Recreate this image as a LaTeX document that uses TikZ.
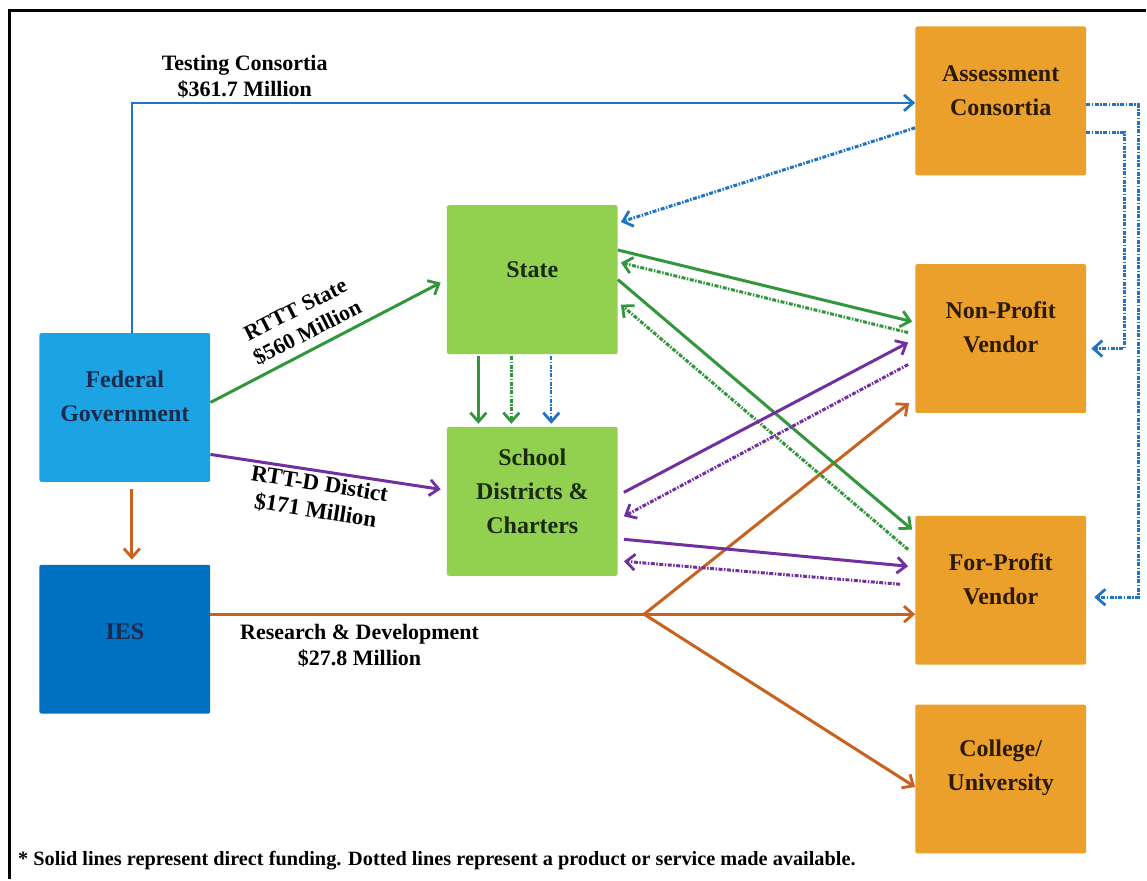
\documentclass[tikz,border=0pt]{standalone}
\usepackage{fontspec}
\setmainfont{Liberation Serif}
\usetikzlibrary{arrows.meta,calc}
\definecolor{fedblue}{HTML}{1CA3E3}
\definecolor{iesblue}{HTML}{0070C0}
\definecolor{boxgreen}{HTML}{92D050}
\definecolor{boxorange}{HTML}{EBA02C}
\definecolor{navytxt}{HTML}{1B2A4E}
\definecolor{greentxt}{HTML}{1A2A10}
\definecolor{browntxt}{HTML}{2A1A06}
\definecolor{lblue}{HTML}{1F74C4}
\definecolor{lgreen}{HTML}{32963C}
\definecolor{lpurple}{HTML}{7030A0}
\definecolor{lorange}{HTML}{C8621E}
\begin{document}
\begin{tikzpicture}[x=1pt,y=-1pt,
  box/.style={draw=none, rounded corners=2pt, minimum width=171pt, minimum height=149pt, inner sep=0pt},
  boxtxt/.style={font=\fontsize{24}{34}\selectfont\bfseries, align=center, inner sep=0pt},
  lbl/.style={font=\fontsize{22}{26}\selectfont\bfseries, align=center, text=black, inner sep=0pt},
  fund/.style={line width=3pt, -{Straight Barb[length=9pt,width=16pt,line width=2.8pt]}},
  prod/.style={fund, dash pattern=on 4pt off 1.5pt on 1.5pt off 1.5pt},
  plain/.style={line width=3pt}
]
\fill[white] (0,0) rectangle (1147,880);
\draw[line width=3pt] (10,880) -- (10,11) -- (1147,11);

% boxes
\node[box, fill=fedblue] (fed) at (125,408) {};
\node[boxtxt, text=navytxt] (fedT) at ([yshift=11pt]fed.center) {Federal\\Government};
\node[box, fill=iesblue] (ies) at (125,640) {};
\node[boxtxt, text=navytxt] (iesT) at ([yshift=8pt]ies.center) {IES};
\node[box, fill=boxgreen] (state) at (533,280) {};
\node[boxtxt, text=greentxt] (stateT) at ([yshift=10pt]state.center) {State};
\node[box, fill=boxgreen] (dist) at (533,502) {};
\node[boxtxt, text=greentxt] (distT) at ([yshift=10pt]dist.center) {School\\Districts \&\\Charters};
\node[box, fill=boxorange] (ac) at (1002,101) {};
\node[boxtxt, text=browntxt] (acT) at ([yshift=10pt]ac.center) {Assessment\\Consortia};
\node[box, fill=boxorange] (np) at (1002,339) {};
\node[boxtxt, text=browntxt] (npT) at ([yshift=11pt]np.center) {Non-Profit\\Vendor};
\node[box, fill=boxorange] (fp) at (1002,591) {};
\node[boxtxt, text=browntxt] (fpT) at ([yshift=11pt]fp.center) {For-Profit\\Vendor};
\node[box, fill=boxorange] (cu) at (1002,780) {};
\node[boxtxt, text=browntxt] (cuT) at ([yshift=11pt]cu.center) {College/\\University};

% labels
\node[lbl] (tcL) at (245,77) {Testing Consortia\\\$361.7 Million};
\node[lbl, rotate=27] (rtttL) at (302,322) {RTTT State\\\$560 Million};
\node[lbl, font=\fontsize{23}{27}\selectfont\bfseries, rotate=-9] (rttdL) at (318,498) {RTT-D Distict\\\$171 Million};
\node[lbl] (rdL) at (360,647) {Research \& Development\\\$27.8 Million};
\node[font=\fontsize{20.3}{22}\selectfont\bfseries, anchor=west, inner sep=0pt] (note) at (18,862) {* Solid lines represent direct funding. Dotted lines represent a product or service made available.};

% federal funding
\draw[fund, lblue, line width=2.6pt] ([xshift=7pt]fed.north) |- ([yshift=-2pt]ac.west);
\draw[fund, lorange, shorten <=7pt, shorten >=5pt] ([xshift=7pt]fed.south) -- ([xshift=7pt]ies.north);
\draw[fund, lgreen] ([yshift=5pt]fed.east) -- ([xshift=-6pt,yshift=-3pt]state.west);
\draw[fund, lpurple] ([yshift=-47pt]fed.east) -- ([xshift=-6pt,yshift=12pt]dist.west);

% IES research
\coordinate (split) at (645,615);
\draw[plain, lorange] ([yshift=25pt]ies.east) -- (split);
\draw[fund, lorange] (split) -- ([yshift=-24pt]fp.west);
\draw[fund, lorange] (split) -- ([xshift=-6pt,yshift=10pt]np.south west);
\draw[fund, lorange] (split) -- ([yshift=-8pt]cu.west);

% assessment consortia products
\draw[prod, lblue] ([yshift=-27pt]ac.west) -- ([xshift=3pt,yshift=-17pt]state.north east);
\draw[prod, lblue] ([yshift=-4pt]ac.east) -- ++(52,0) |- ([xshift=8pt,yshift=-7pt]fp.east);
\draw[prod, lblue] ([yshift=-32pt]ac.east) -- ++(38,0) |- ([xshift=5pt,yshift=-10pt]np.east);

% state <-> vendors
\draw[fund, lgreen] ([yshift=-45pt]state.north east) -- ([xshift=-3pt,yshift=17pt]np.west);
\draw[prod, lgreen] ([xshift=-7pt,yshift=6pt]np.west) -- ([xshift=3pt,yshift=17pt]state.east);
\draw[fund, lgreen] (state.east) -- ([xshift=-3pt,yshift=-14pt]fp.north west);
\draw[prod, lgreen] ([xshift=-7pt,yshift=-34pt]fp.north west) -- ([xshift=3pt,yshift=-25pt]state.east);

% districts <-> vendors
\draw[fund, lpurple] ([xshift=6pt,yshift=9pt]dist.east) -- ([xshift=-7pt,yshift=-4pt]np.west);
\draw[prod, lpurple] ([xshift=-7pt,yshift=-26pt]np.west) -- ([xshift=6pt,yshift=-15pt]dist.east);
\draw[fund, lpurple] ([xshift=6pt,yshift=-38pt]dist.east) -- ([xshift=-7pt,yshift=24pt]fp.west);
\draw[prod, lpurple] ([xshift=-15pt,yshift=6pt]fp.west) -- ([xshift=6pt,yshift=-60pt]dist.east);

% state -> districts
\draw[fund, lgreen, line width=2.4pt, shorten <=2pt, shorten >=3pt] ([xshift=-54pt]state.south) -- ([xshift=-54pt]dist.north);
\draw[prod, lgreen, line width=2.4pt, shorten <=2pt, shorten >=3pt] ([xshift=-21pt]state.south) -- ([xshift=-21pt]dist.north);
\draw[prod, lblue, line width=2.4pt, shorten <=2pt, shorten >=3pt] ([xshift=19pt]state.south) -- ([xshift=19pt]dist.north);
\end{tikzpicture}
\end{document}
